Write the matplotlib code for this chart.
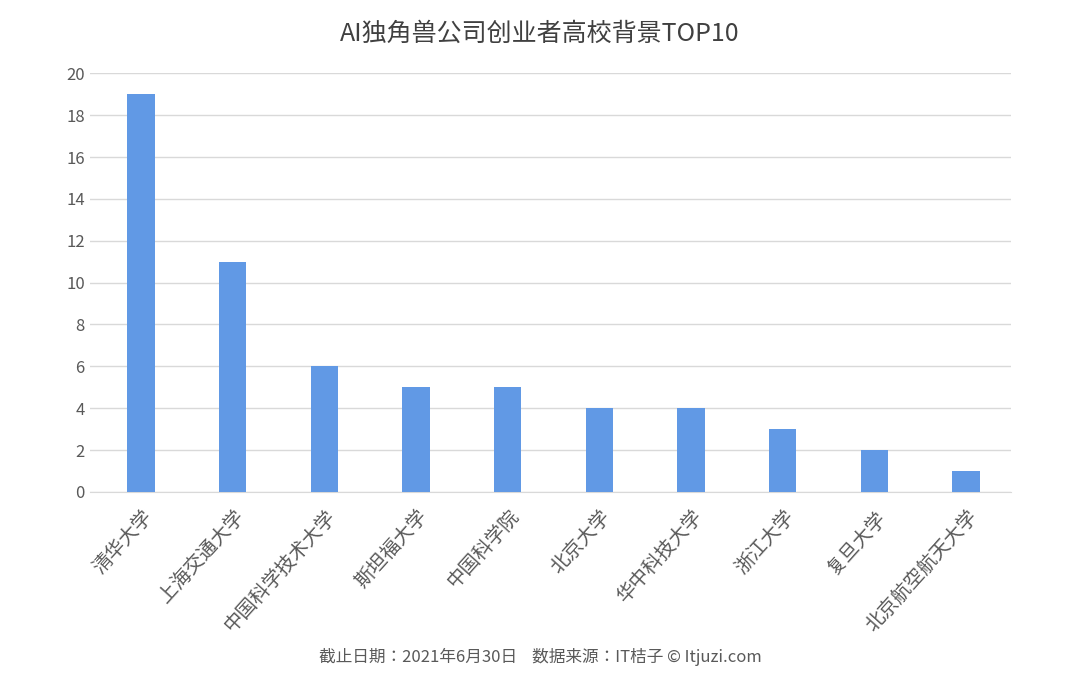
import matplotlib.pyplot as plt
from matplotlib import font_manager as fm

categories = ["清华大学", "上海交通大学", "中国科学技术大学", "斯坦福大学", "中国科学院",
              "北京大学", "华中科技大学", "浙江大学", "复旦大学", "北京航空航天大学"]
values = [19, 11, 6, 5, 5, 4, 4, 3, 2, 1]
yticks = list(range(0, 21, 2))

# find a CJK font file and register it
cjk = [f for f in fm.findSystemFonts() if "CJK" in f or "Noto Sans SC" in f]
for f in cjk:
    try:
        fm.fontManager.addfont(f)
    except Exception:
        pass
names = sorted({e.name for e in fm.fontManager.ttflist if "CJK" in e.name})
family = "Noto Sans CJK SC" if "Noto Sans CJK SC" in names else (names[0] if names else "DejaVu Sans")
plt.rcParams["font.family"] = [family, "DejaVu Sans"]

fig = plt.figure(figsize=(10.8, 6.86), dpi=100)
ax = fig.add_axes([0.083, 0.283, 0.853, 0.61])
x = range(len(categories))
ax.bar(x, values, width=0.3, color="#6199e5", zorder=3)
ax.set_xlim(-0.56, len(categories) - 0.51)
ax.set_ylim(0, 20)
ax.set_yticks(yticks)
ax.grid(axis="y", color="#d9d9d9", linewidth=1, zorder=0)
for s in ["top", "right", "left"]:
    ax.spines[s].set_visible(False)
ax.spines["bottom"].set_color("#d9d9d9")
ax.tick_params(length=0, labelsize=12, colors="#595959")
ax.tick_params(axis="x", pad=10)
ax.set_xticks(list(x))
ax.set_xticklabels(categories, rotation=48, ha="right", rotation_mode="anchor", fontsize=14)
fig.suptitle("AI独角兽公司创业者高校背景TOP10", y=0.97, fontsize=18, color="#404040")
fig.text(0.5, 0.035, "截止日期：2021年6月30日    数据来源：IT桔子 © Itjuzi.com",
         ha="center", fontsize=12, color="#595959")
fig.savefig("out.png")
